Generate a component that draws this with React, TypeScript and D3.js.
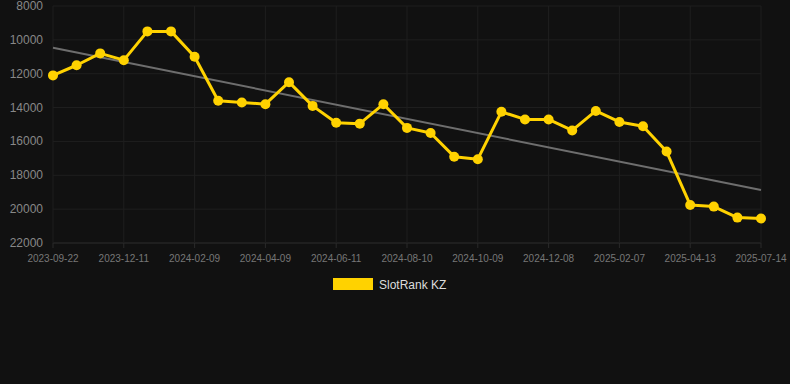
import React from "react";
import * as d3 from "d3";

const dates = [
  "2023-09-22", "2023-10-19", "2023-11-15", "2023-12-11", "2023-12-31", "2024-01-20",
  "2024-02-09", "2024-02-29", "2024-03-20", "2024-04-09", "2024-04-30", "2024-05-21",
  "2024-06-11", "2024-07-01", "2024-07-21", "2024-08-10", "2024-08-30", "2024-09-19",
  "2024-10-09", "2024-10-29", "2024-11-18", "2024-12-08", "2024-12-29", "2025-01-18",
  "2025-02-07", "2025-02-28", "2025-03-22", "2025-04-13", "2025-05-17", "2025-06-15",
  "2025-07-14",
];
const ranks = [
  12100, 11500, 10800, 11200, 9500, 9500, 11000, 13600, 13700, 13800, 12500, 13900,
  14900, 14950, 13800, 15200, 15500, 16900, 17050, 14250, 14700, 14700, 15350, 14200,
  14850, 15100, 16600, 19750, 19850, 20500, 20550,
];
// trend line end values (first and last date)
const trendValues = [10470, 18870];
const yTicks = [8000, 10000, 12000, 14000, 16000, 18000, 20000, 22000];
const seriesName = "SlotRank KZ";

const W = 790, H = 384;
const left = 53, right = 761, top = 6, bottom = 243;

export default function App() {
  const x = d3.scalePoint<string>().domain(dates).range([left, right]).padding(0);
  const y = d3.scaleLinear().domain([8000, 22000]).range([top, bottom]);
  const n = ranks.length;

  const line = d3.line<number>().x((_, i) => x(dates[i])!).y((d) => y(d));
  const labelDates = dates.filter((_, i) => i % 3 === 0);

  return (
    <svg width={W} height={H} style={{ position: "absolute", left: 0, top: 0, background: "#111111" }}
      fontFamily="'Liberation Sans', Arial, sans-serif">
      <rect x={0} y={0} width={W} height={H} fill="#111111" />
      {yTicks.map((t) => (
        <line key={t} x1={left} x2={right} y1={y(t)} y2={y(t)} stroke={t === 22000 ? "#2e2e2e" : "#1f1f1f"} strokeWidth={1} />
      ))}
      {labelDates.map((d) => (
        <g key={d}>
          <line x1={x(d)} x2={x(d)} y1={top} y2={bottom} stroke="#1f1f1f" strokeWidth={1} />
          <line x1={x(d)} x2={x(d)} y1={bottom} y2={bottom + 5} stroke="#2a2a2a" strokeWidth={1} />
          <text x={x(d)} y={bottom + 19} textAnchor="middle" fontSize={10} fill="#777777">{d}</text>
        </g>
      ))}
      {yTicks.map((t) => (
        <text key={t} x={43} y={y(t) + 4} textAnchor="end" fontSize={12} fill="#888888">{t}</text>
      ))}
      <line x1={x(dates[0])} x2={x(dates[n - 1])} y1={y(trendValues[0])} y2={y(trendValues[1])} stroke="#6e6e6e" strokeWidth={2} />
      <path d={line(ranks)!} fill="none" stroke="#FFD200" strokeWidth={3} strokeLinejoin="round" />
      {ranks.map((v, i) => (
        <circle key={i} cx={x(dates[i])} cy={y(v)} r={5} fill="#FFD200" />
      ))}
      <rect x={333} y={278} width={40} height={12} fill="#FFD200" />
      <text x={379} y={288.5} fontSize={12} fill="#dddddd">{seriesName}</text>
    </svg>
  );
}
